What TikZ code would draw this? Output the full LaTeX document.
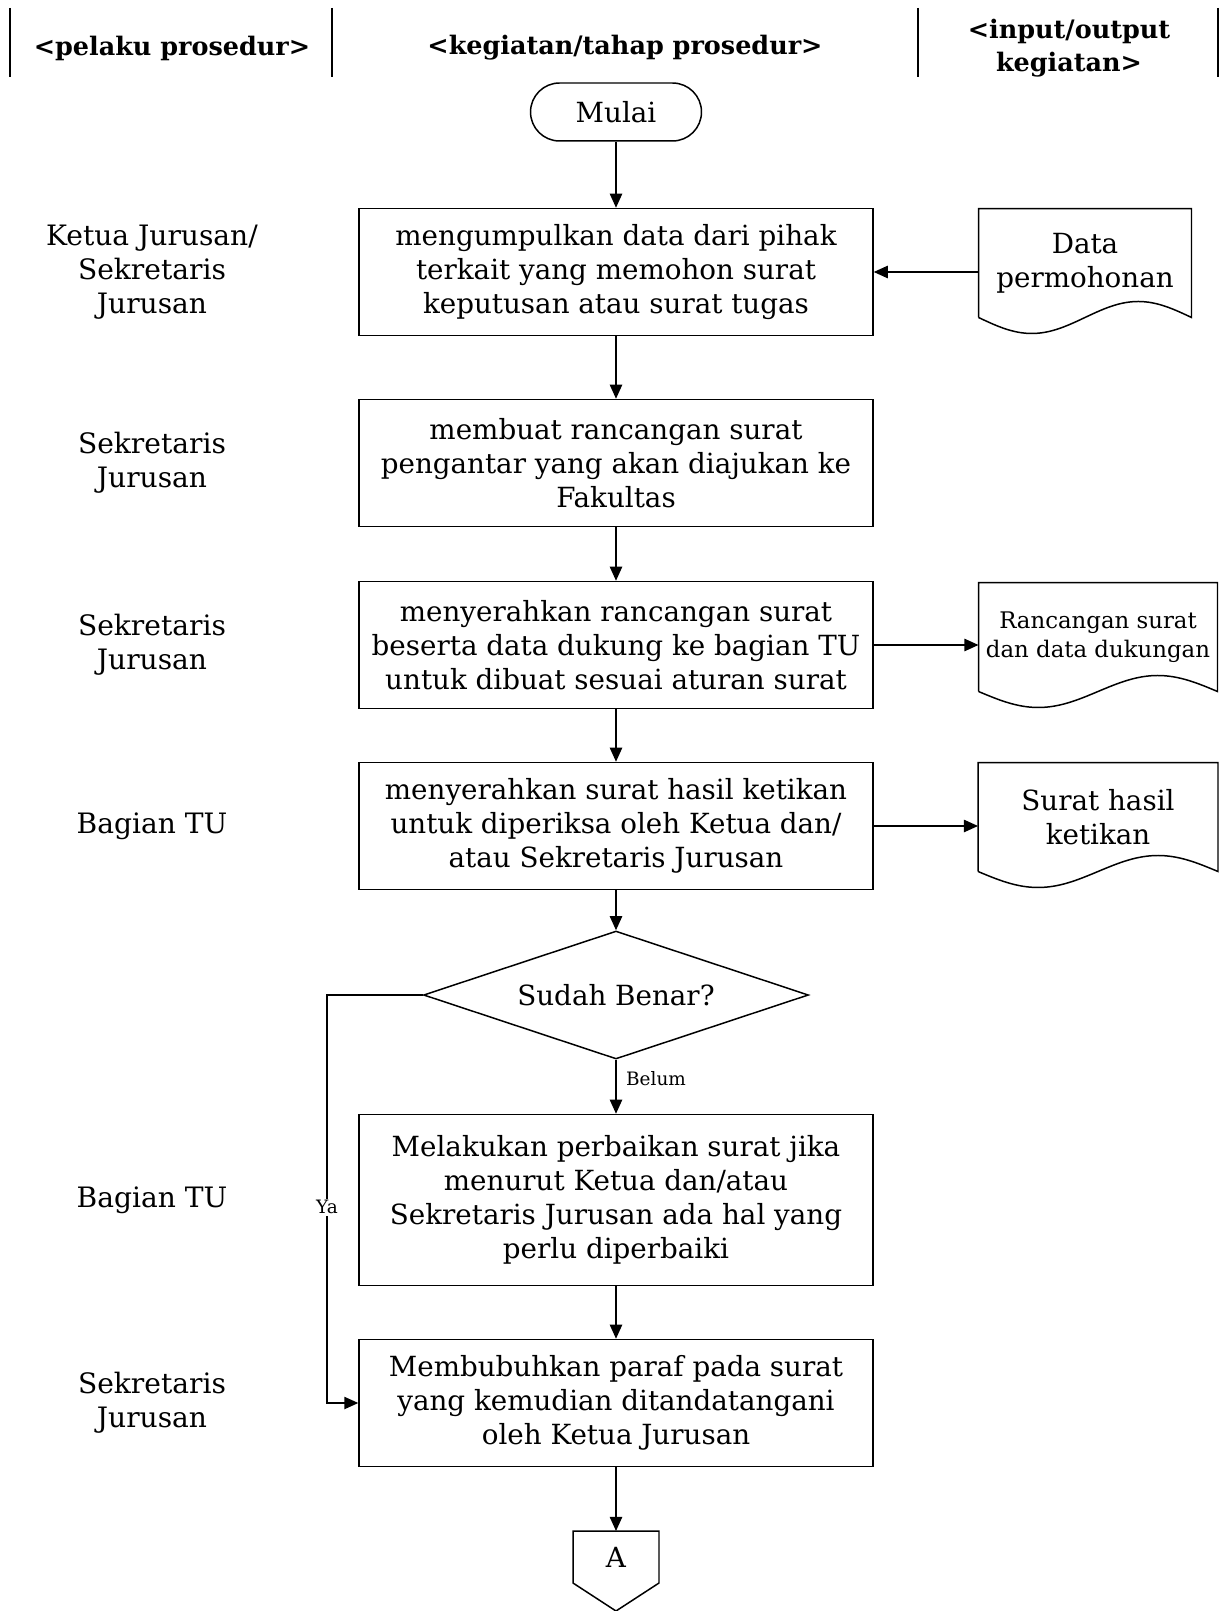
\documentclass[tikz,border=0pt]{standalone}
\usepackage{fontspec}
\setmainfont{DejaVu Serif}
\usetikzlibrary{shapes.geometric,arrows.meta,calc}

\tikzset{
	proses/.style={draw, minimum width=10.28cm, minimum height=2.54cm, align=center, font=\fontsize{15.8}{19.3}\selectfont},
	pelaku/.style={align=center, font=\fontsize{16}{19.3}\selectfont},
	judul/.style={align=center, font=\fontsize{14.5}{18.7}\selectfont\bfseries},
	dok/.style={minimum height=2.18cm, align=center, outer sep=0pt, font=\fontsize{15.8}{19.3}\selectfont},
	kecil/.style={font=\fontsize{10.5}{12}\selectfont},
	panah/.style={-{Triangle[length=8pt,width=7pt]}},
}
\newcommand\dokumen[1]{%
	\draw (#1.south west) -- (#1.north west) -- (#1.north east) -- (#1.south east)
		sin ($(#1.south east)!.25!(#1.south west)+(0,-16)$)
		cos ($(#1.south east)!.5!(#1.south west)$)
		sin ($(#1.south east)!.75!(#1.south west)+(0,16)$)
		cos (#1.south west);
}

\begin{document}
\begin{tikzpicture}[x=0.02cm, y=-0.02cm, line width=0.85pt]
	\useasboundingbox (0,0) rectangle (1220,1611);

	% kolom judul
	\draw (10,8) -- (10,77);
	\draw (332,8) -- (332,77);
	\draw (918,8) -- (918,77);
	\draw (1218,8) -- (1218,77);
	\node[judul] (j1) at (172,48) {<pelaku prosedur>};
	\node[judul] (j2) at (625,48) {<kegiatan/tahap prosedur>};
	\node[judul] (j3) at (1069,48) {<input/output\\kegiatan>};

	% alur
	\node[draw, rounded corners=0.58cm, minimum width=3.42cm, minimum height=1.16cm, font=\fontsize{15.8}{19.3}\selectfont] (mulai) at (616,112) {Mulai};
	\node[proses] (b1) at (616,272) {mengumpulkan data dari pihak\\terkait yang memohon surat\\keputusan atau surat tugas};
	\node[proses] (b2) at (616,463) {membuat rancangan surat\\pengantar yang akan diajukan ke\\Fakultas};
	\node[proses] (b3) at (616,645) {menyerahkan rancangan surat\\beserta data dukung ke bagian TU\\untuk dibuat sesuai aturan surat};
	\node[proses] (b4) at (616,826) {menyerahkan surat hasil ketikan\\untuk diperiksa oleh Ketua dan/\\atau Sekretaris Jurusan};
	\node[draw, diamond, aspect=3, inner sep=0pt, minimum width=7.7cm, minimum height=2.56cm, font=\fontsize{15.8}{19.3}\selectfont] (cek) at (616,995) {Sudah Benar?};
	\node[proses, minimum height=3.42cm] (b5) at (616,1200) {Melakukan perbaikan surat jika\\menurut Ketua dan/atau\\Sekretaris Jurusan ada hal yang\\perlu diperbaiki};
	\node[proses] (b6) at (616,1403) {Membubuhkan paraf pada surat\\yang kemudian ditandatangani\\oleh Ketua Jurusan};
	\node[minimum width=1.72cm, minimum height=1.04cm, outer sep=0pt, font=\fontsize{15.8}{19.3}\selectfont] (A) at (616,1557) {A};
	\draw (A.south west) -- (A.north west) -- (A.north east) -- (A.south east) -- ++(-43,28) -- cycle;

	% dokumen
	\node[dok, minimum width=4.26cm] (d1) at (1085,263) {Data\\permohonan};
	\node[dok, minimum width=4.78cm, font=\fontsize{13}{16.5}\selectfont] (d2) at (1098,637) {Rancangan surat\\dan data dukungan};
	\node[dok, minimum width=4.8cm] (d3) at (1098,817) {Surat hasil\\ketikan};
	\dokumen{d1}
	\dokumen{d2}
	\dokumen{d3}

	% pelaku
	\node[pelaku] (p1) at (152,272) {Ketua Jurusan/\\Sekretaris\\Jurusan};
	\node[pelaku] (p2) at (152,463) {Sekretaris\\Jurusan};
	\node[pelaku] (p3) at (152,645) {Sekretaris\\Jurusan};
	\node[pelaku] (p4) at (152,826) {Bagian TU};
	\node[pelaku] (p5) at (152,1200) {Bagian TU};
	\node[pelaku] (p6) at (152,1403) {Sekretaris\\Jurusan};

	% panah
	\draw[panah] (mulai) -- (b1);
	\draw[panah] (b1) -- (b2);
	\draw[panah] (b2) -- (b3);
	\draw[panah] (b3) -- (b4);
	\draw[panah] (b4) -- (cek);
	\draw[panah] (cek) -- node[right, kecil, pos=0.35, xshift=2pt] {Belum} (b5);
	\draw[panah] (b5) -- (b6);
	\draw[panah] (b6) -- (A);
	\draw[panah] (d1.west |- b1.east) -- (b1.east);
	\draw[panah] (b3.east) -- (b3.east -| d2.west);
	\draw[panah] (b4.east) -- (b4.east -| d3.west);
	\coordinate (ya) at (327,995);
	\draw[panah] (cek.west) -- (ya) |- node[pos=0.26, fill=white, kecil, inner sep=1pt] {Ya} (b6.west);

\end{tikzpicture}
\end{document}
